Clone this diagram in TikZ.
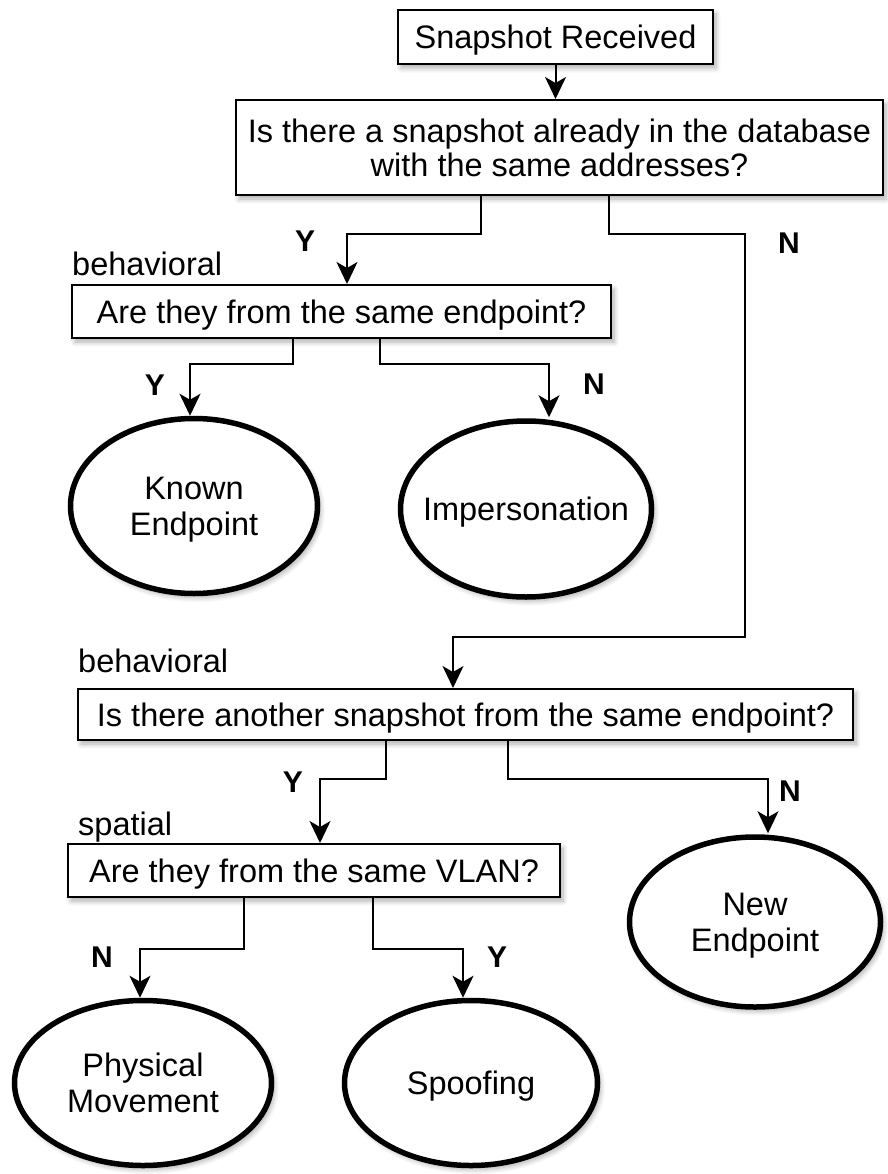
\documentclass[tikz,border=0pt]{standalone}
\usepackage{fontspec}
\setmainfont{Liberation Sans}
\usetikzlibrary{arrows.meta,shapes.geometric,shadows.blur}

\begin{document}
\begin{tikzpicture}[x=1pt,y=-1pt,
  soft/.style={blur shadow={shadow xshift=3pt,shadow yshift=-4pt,shadow blur steps=8,
    shadow blur radius=5pt,shadow opacity=32}},
  box/.style={draw,line width=2pt,fill=white,inner sep=0pt,align=center,text depth=0pt,
    font=\fontsize{32.5}{34}\selectfont,soft},
  outcome/.style={ellipse,draw,line width=5.5pt,fill=white,inner sep=0pt,align=center,
    text depth=0pt,font=\fontsize{32.5}{36}\selectfont,soft},
  tag/.style={inner sep=0pt,anchor=base west,font=\fontsize{32.5}{34}\selectfont},
  yn/.style={inner sep=0pt,font=\bfseries\fontsize{30}{32}\selectfont},
  arr/.style={line width=2pt,-{Stealth[length=22pt,width=21pt,inset=6pt]}},
]
\useasboundingbox (0,0) rectangle (887,1174);

% decision boxes
\node[box,minimum width=315pt,minimum height=54pt] (recv) at (555.5,37) {Snapshot Received};
\node[box,minimum width=647pt,minimum height=95pt] (main) at (559.5,147.5)
  {Is there a snapshot already in the database\\with the same addresses?};
\node[box,minimum width=539pt,minimum height=53pt] (same) at (341.5,311.5)
  {Are they from the same endpoint?};
\node[box,minimum width=775pt,minimum height=51pt] (other) at (465.5,714.5)
  {Is there another snapshot from the same endpoint?};
\node[box,minimum width=492pt,minimum height=53pt] (vlan) at (314,870.5)
  {Are they from the same VLAN?};

% category tags
\node[tag] (tag1) at (72,275) {behavioral};
\node[tag] (tag2) at (78,672) {behavioral};
\node[tag] (tag3) at (78,835) {spatial};

% outcomes
\node[outcome,minimum width=247pt,minimum height=175pt] (known) at (194,506) {Known\\Endpoint};
\node[outcome,minimum width=251pt,minimum height=176pt,inner xsep=-24pt] (imp) at (526,509) {Impersonation};
\node[outcome,minimum width=251pt,minimum height=170pt] (new) at (755,922) {New\\Endpoint};
\node[outcome,minimum width=257pt,minimum height=165pt] (phys) at (143,1083) {Physical\\Movement};
\node[outcome,minimum width=253pt,minimum height=165pt] (spoof) at (471,1083) {Spoofing};

% answer labels
\node[yn] (y1) at (305,241) {Y};
\node[yn] (n1) at (789,243) {N};
\node[yn] (y2) at (155,385) {Y};
\node[yn] (n2) at (594,384) {N};
\node[yn] (y3) at (293,782) {Y};
\node[yn] (n3) at (790,791) {N};
\node[yn] (n4) at (102,957) {N};
\node[yn] (y4) at (497,957) {Y};

% connectors
\coordinate (bend) at (745,637);
\draw[arr] (recv.south) -- (recv.south |- main.north);
\draw[arr] ([xshift=-78.5pt]main.south) -- ++(0,38) -| ([xshift=5.5pt]same.north);
\draw[arr] ([xshift=49.5pt]main.south) -- ++(0,38) -| (bend) -| ([xshift=-12.5pt]other.north);
\draw[arr] ([xshift=-48.5pt]same.south) -- ++(0,25) -| ([xshift=-4pt]known.north);
\draw[arr] ([xshift=38.5pt]same.south) -- ++(0,25) -| ([xshift=23pt,yshift=1pt]imp.north);
\draw[arr] ([xshift=-79.5pt]other.south) -- ++(0,38) -| ([xshift=6pt]vlan.north);
\draw[arr] ([xshift=42.5pt]other.south) -- ++(0,38) -| ([xshift=13pt,yshift=1pt]new.north);
\draw[arr] ([xshift=-70pt]vlan.south) -- ++(0,51) -| ([xshift=-3pt]phys.north);
\draw[arr] ([xshift=59pt]vlan.south) -- ++(0,51) -| ([xshift=-8pt]spoof.north);
\end{tikzpicture}
\end{document}
